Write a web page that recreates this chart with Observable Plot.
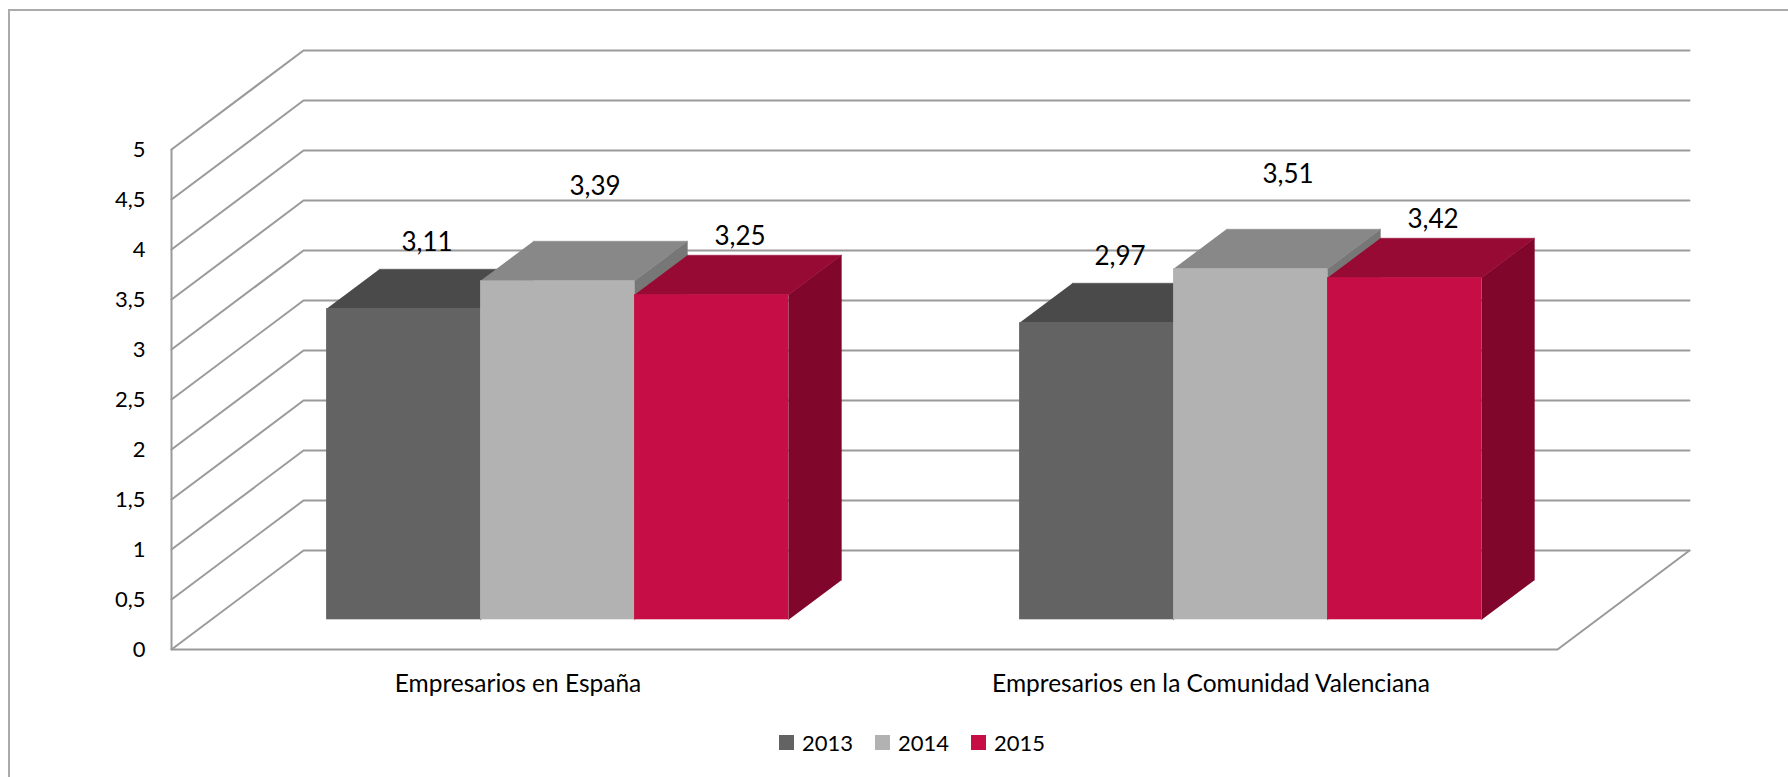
<!DOCTYPE html>
<html><head><meta charset="utf-8">
<script src="https://cdn.jsdelivr.net/npm/d3@7"></script>
<script src="https://cdn.jsdelivr.net/npm/@observablehq/plot@0.6"></script>
<style>
html,body{margin:0;padding:0;background:#fff;}
#wrap{position:relative;width:1788px;height:777px;overflow:hidden;font-family:Lato,sans-serif;}
#border{position:absolute;left:8px;top:9px;width:1800px;height:800px;border:2px solid #ababab;box-sizing:border-box;}
#chart{position:absolute;left:0;top:0;}
#legend{position:absolute;left:779px;top:726px;font-family:Lato,sans-serif;font-size:22px;color:#000;}
#legend .lg-swatches{font-family:Lato,sans-serif !important;font-size:22px !important;color:#000 !important;margin:0 !important;}
.lg-swatch{margin-right:22px !important;}
.lg-swatch > svg{margin-right:8px !important;}
</style></head><body>
<div id="wrap"><div id="border"></div><div id="chart"></div><div id="legend"></div></div>
<script>
// ---- data ----
const categories = ["Empresarios en España", "Empresarios en la Comunidad Valenciana"];
const years = ["2013", "2014", "2015"];
const values2013 = [3.11, 2.97];
const values2014 = [3.39, 3.51];
const values2015 = [3.25, 3.42];
const yTicks = [0, 0.5, 1, 1.5, 2, 2.5, 3, 3.5, 4, 4.5, 5];

// ---- style ----
const frontColors = ["#636363", "#b2b2b2", "#c70d45"];
const topColors = ["#4a4a4a", "#888888", "#970a34"];
const sideColors = ["#3c3c3c", "#777777", "#80062c"];
const gridColor = "#9a9a9a";
const labelLift = [0.46, 0.74, 0.38];   // per-series label lift (value units)
const labelDx = [-3, 11, 2];            // per-series label nudge (px)

// ---- oblique 3D geometry (in scale units) ----
const PX_PER_X = 693;                   // px per category unit
const DX = 132 / PX_PER_X, DY = 0.99;   // full depth offset
const D0 = 0.3, D1 = 0.7;               // bar depth span
const BW = 1 / 4.5;                     // bar width (gap 150%)
const GAP = (1 - 3 * BW) / 2;
const P = (x, v, d) => ({x: x + d * DX, y: v + d * DY});

const series = [values2013, values2014, values2015];
const rows = [];
categories.forEach((c, ci) => years.forEach((yr, si) => rows.push({cat: c, ci, year: yr, si, value: series[si][ci]})));

const fronts = rows.map(r => {
  const x0 = r.ci + GAP + r.si * BW;
  return {...r, x1: x0 + D0 * DX, x2: x0 + BW + D0 * DX, y1: D0 * DY, y2: r.value + D0 * DY};
});
const tops = rows.flatMap(r => {
  const x0 = r.ci + GAP + r.si * BW, x1 = x0 + BW, v = r.value;
  return [P(x0, v, D0), P(x1, v, D0), P(x1, v, D1), P(x0, v, D1)].map(p => ({...p, id: r.ci + "-" + r.si, si: r.si}));
});
const sides = rows.flatMap(r => {
  const x1 = r.ci + GAP + r.si * BW + BW, v = r.value;
  return [P(x1, 0, D0), P(x1, v, D0), P(x1, v, D1), P(x1, 0, D1)].map(p => ({...p, id: r.ci + "-" + r.si, si: r.si}));
});
const labels = rows.map(r => {
  const p = P(r.ci + GAP + r.si * BW + BW / 2 + labelDx[r.si] / PX_PER_X, r.value + labelLift[r.si], 0.5);
  return {...p, si: r.si, text: r.value.toFixed(2).replace(".", ",")};
});
const gridPts = yTicks.flatMap(v => [{x: 0, y: v, v}, {x: DX, y: v + DY, v}, {x: 2 + DX, y: v + DY, v}]);
const floorPts = [{x: 0, y: 0}, {x: 2, y: 0}, {x: 2 + DX, y: DY}];
const fmt = d => String(d).replace(".", ",");

const barMarks = years.flatMap((yr, si) => [
  Plot.line(sides.filter(d => d.si === si), {x: "x", y: "y", z: "id", fill: sideColors[si], stroke: sideColors[si], strokeWidth: 0.5}),
  Plot.line(tops.filter(d => d.si === si), {x: "x", y: "y", z: "id", fill: topColors[si], stroke: topColors[si], strokeWidth: 0.5}),
  Plot.rect(fronts.filter(d => d.si === si), {x1: "x1", x2: "x2", y1: "y1", y2: "y2", fill: "year"})
]);

const chart = Plot.plot({
  width: 1788, height: 715,
  marginLeft: 171, marginRight: 231, marginTop: 149, marginBottom: 66,
  x: {domain: [0, 2], axis: null},
  y: {domain: [0, 5], axis: null},
  color: {domain: years, range: frontColors},
  style: {fontFamily: "Lato, sans-serif", fontSize: "22px", color: "#000", background: "none"},
  marks: [
    Plot.line(gridPts, {x: "x", y: "y", z: "v", stroke: gridColor, strokeWidth: 2}),
    Plot.line(floorPts, {x: "x", y: "y", stroke: gridColor, strokeWidth: 2}),
    Plot.ruleX([0], {y1: 0, y2: 5, stroke: gridColor, strokeWidth: 2}),
    Plot.axisY({ticks: yTicks, tickSize: 0, tickPadding: 26, tickFormat: fmt, label: null, fill: "#000", fontSize: 22}),
    ...barMarks,
    Plot.text(labels, {x: "x", y: "y", text: "text", fontSize: 26, fill: "#000"}),
    Plot.text(categories, {x: (d, i) => i + 0.5, y: () => 0, dy: 35, text: d => d, fontSize: 24.5, fill: "#000"})
  ]
});
document.getElementById("chart").appendChild(chart);

const legend = Plot.legend({
  color: {domain: years, range: frontColors},
  className: "lg",
  swatchSize: 15,
  style: {fontFamily: "Lato, sans-serif", fontSize: "22px", color: "#000"}
});
document.getElementById("legend").appendChild(legend);
</script>
</body></html>
